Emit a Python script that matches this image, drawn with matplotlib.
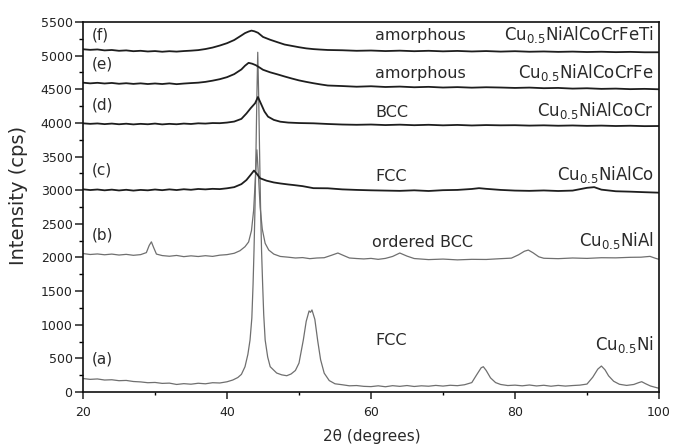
import matplotlib
matplotlib.use("Agg")
import matplotlib.pyplot as plt
from matplotlib.ticker import MultipleLocator

plt.rcParams['font.family'] = ['DejaVu Sans']
plt.rcParams['mathtext.fontset'] = 'dejavusans'

# ---------------- data ----------------
# (a) Cu0.5Ni
a_x = [20, 21, 22, 23, 24, 25, 26, 27, 28, 29, 30, 31, 32, 33, 34, 35, 36, 37, 38, 39, 40,
       40.8, 41.5, 42.0, 42.5, 42.9, 43.2, 43.45, 43.62, 43.75, 43.9, 44.03, 44.15, 44.27,
       44.4, 44.52, 44.65, 44.8, 44.95, 45.1, 45.3, 45.65, 46.0, 46.9, 47.6, 48.3, 48.9,
       49.5, 50.0, 50.6, 51.0, 51.4, 51.6, 51.8, 52.2, 52.6, 53.0, 53.5, 54.2, 55, 56, 57,
       58, 59, 60, 61, 62, 63, 64, 65, 66, 67, 68, 69, 70, 71, 72, 73, 74, 74.7, 75.3, 75.6,
       76.0, 76.6, 77.3, 78, 79, 80, 81, 82, 83, 84, 85, 86, 87, 88, 89, 90, 90.8, 91.5,
       92.0, 92.5, 93.0, 93.7, 94.5, 95.5, 96.5, 97.2, 97.6, 98.1, 98.8, 99.4, 100]
a_y = [200, 188, 194, 178, 182, 168, 172, 156, 150, 138, 142, 128, 132, 112, 124, 116, 130, 122, 138, 134, 152,
       178, 215, 262, 376, 560, 773, 1100, 1600, 2100, 2800, 3600, 4400, 5050,
       4400, 3600, 2800, 2100, 1600, 1150, 773, 520, 376, 282, 255, 242, 268,
       320, 430, 773, 1050, 1205, 1185, 1220, 1080, 760, 480, 280, 170, 122, 108, 92,
       96, 84, 80, 92, 78, 94, 84, 96, 82, 92, 86, 98, 88, 100, 94, 108, 140, 260, 360, 376,
       320, 210, 140, 112, 96, 102, 92, 104, 90, 100, 86, 98, 88, 96, 102, 118, 220, 340,
       386, 330, 240, 160, 115, 98, 112, 140, 153, 125, 90, 72, 55]

# (b) Cu0.5NiAl
b_x = [20, 21, 22, 23, 24, 25, 26, 27, 28, 28.8, 29.2, 29.5, 29.8, 30.2, 31, 32, 33, 34, 35,
       36, 37, 38, 39, 40, 41, 41.8, 42.5, 43.0, 43.4, 43.7, 43.95, 44.15, 44.35, 44.6, 44.9,
       45.3, 45.8, 46.5, 47.4, 48.5, 49.5, 50.5, 51.5, 52.5, 53.5, 54.5, 55.4, 56.3, 57, 58,
       59, 60, 61, 62, 63, 64, 65, 66, 67, 68, 70, 72, 74, 76, 78, 79.5, 80.5, 81.3, 81.85,
       82.5, 83.3, 84, 86, 88, 90, 92, 94, 96, 97.5, 98.75, 99.5, 100]
b_y = [2058, 2044, 2052, 2040, 2050, 2036, 2046, 2032, 2042, 2072, 2180, 2232, 2150, 2050, 2028, 2018, 2030, 2012, 2024,
       2014, 2026, 2016, 2034, 2042, 2062, 2100, 2160, 2230, 2400, 2700, 3200, 3600, 3250, 2750, 2420,
       2210, 2110, 2050, 2015, 2004, 1992, 1998, 1982, 1992, 1996, 2032, 2066, 2024, 1992, 1984,
       1978, 1986, 1972, 1986, 2015, 2066, 2020, 1984, 1976, 1968, 1976, 1964, 1972, 1970, 1982, 1990, 2040, 2092, 2110,
       2070, 2010, 1988, 1982, 1992, 1986, 1996, 1994, 2002, 2004, 2016, 1988, 1972]

# (c) Cu0.5NiAlCo
c_x = [20, 21, 22, 23, 24, 25, 26, 27, 28, 29, 30, 31, 32, 33, 34, 35, 36, 37, 38, 39, 40, 41,
       42, 42.7, 43.3, 43.75, 44.2, 44.6, 45.5, 46.5, 47.4, 48.5, 49.2, 50.5, 52, 54, 56, 58,
       60, 62, 64, 66, 68, 70, 72, 74, 75, 76, 78, 80, 82, 84, 86, 88, 90, 91, 92, 94, 96, 98, 100]
c_y = [3013, 3002, 3010, 2998, 3008, 2996, 3006, 2994, 3004, 2998, 3010, 3000, 3012, 3002, 3014, 3006, 3018, 3012, 3020, 3016, 3028, 3045,
       3090, 3151, 3230, 3292, 3235, 3177, 3141, 3115, 3100, 3085, 3077, 3060, 3030, 3028, 3012, 3004,
       2998, 2994, 2990, 2998, 2988, 3000, 3004, 3018, 3030, 3020, 3004, 2994, 2990, 2996, 2988, 2994, 3035, 3045, 3008, 2984, 2978, 2970, 2963]

# (d) Cu0.5NiAlCoCr
d_x = [20, 21, 22, 23, 24, 25, 26, 27, 28, 29, 30, 31, 32, 33, 34, 35, 36, 37, 38, 39, 40, 41,
       42, 42.7, 43.3, 43.9, 44.3, 44.8, 45.2, 45.7, 46.5, 47.4, 48.5, 50, 52, 54, 56, 58, 60,
       62, 64, 66, 68, 70, 72, 74, 76, 78, 80, 82, 84, 86, 88, 90, 92, 94, 96, 98, 100]
d_y = [3994, 3986, 3992, 3982, 3990, 3980, 3988, 3978, 3986, 3980, 3990, 3978, 3986, 3980, 3990, 3984, 3994, 3990, 3998, 3996, 4005, 4020,
       4060, 4140, 4220, 4292, 4385, 4266, 4170, 4093, 4045, 4018, 4005, 3998, 3994, 3984, 3976, 3972, 3976,
       3968, 3974, 3966, 3972, 3964, 3970, 3962, 3968, 3964, 3966, 3960, 3964, 3958, 3962, 3956, 3960, 3954, 3958, 3952, 3954]

# (e) Cu0.5NiAlCoCrFe
e_x = [20, 21, 22, 23, 24, 25, 26, 27, 28, 29, 30, 31, 32, 33, 34, 35, 36, 37, 38, 39, 40, 41,
       42, 42.5, 43, 43.5, 44, 44.5, 45, 46, 47, 48, 49, 50, 51, 52, 53, 54, 56, 58, 60, 62, 64,
       66, 68, 70, 72, 74, 76, 78, 80, 82, 84, 86, 88, 90, 92, 94, 96, 98, 100]
e_y = [4598, 4588, 4596, 4586, 4594, 4582, 4590, 4580, 4588, 4578, 4586, 4578, 4588, 4576, 4585, 4592, 4598, 4610, 4628, 4650, 4680, 4725,
       4795, 4850, 4893, 4880, 4858, 4825, 4790, 4752, 4722, 4690, 4660, 4632, 4610, 4590, 4572, 4556, 4548, 4538, 4545, 4534, 4540,
       4530, 4536, 4526, 4532, 4524, 4530, 4526, 4520, 4525, 4516, 4520, 4510, 4515, 4506, 4510, 4502, 4506, 4500]

# (f) Cu0.5NiAlCoCrFeTi
f_x = [20, 21, 22, 23, 24, 25, 26, 27, 28, 29, 30, 31, 32, 33, 34, 35, 36, 37, 38, 39, 40, 41,
       42, 42.5, 43, 43.4, 43.8, 44.3, 45, 46, 47, 48, 49, 50, 51, 52, 53, 54, 56, 58, 60, 62,
       64, 66, 68, 70, 72, 74, 76, 78, 80, 82, 84, 86, 88, 90, 92, 94, 96, 98, 100]
f_y = [5095, 5086, 5092, 5078, 5084, 5072, 5078, 5066, 5072, 5062, 5068, 5058, 5066, 5060, 5068, 5074, 5082, 5098, 5120, 5150, 5185, 5232,
       5300, 5335, 5358, 5372, 5362, 5340, 5278, 5236, 5200, 5165, 5145, 5125, 5108, 5097, 5090, 5084, 5080, 5072, 5076, 5068,
       5074, 5066, 5072, 5064, 5070, 5062, 5068, 5060, 5066, 5058, 5062, 5056, 5060, 5054, 5058, 5052, 5056, 5050, 5050]

curve_labels = ['(a)', '(b)', '(c)', '(d)', '(e)', '(f)']
curve_label_y = [495, 2334, 3300, 4266, 4879, 5307]
phase_labels = ['FCC', 'ordered BCC', 'FCC', 'BCC', 'amorphous', 'amorphous']
phase_label_y = [699, 2160, 3130, 4090, 4663, 5232]
alloy_labels = [r'Cu$_{0.5}$Ni', r'Cu$_{0.5}$NiAl', r'Cu$_{0.5}$NiAlCo',
                r'Cu$_{0.5}$NiAlCoCr', r'Cu$_{0.5}$NiAlCoCrFe', r'Cu$_{0.5}$NiAlCoCrFeTi']
alloy_label_y = [624, 2170, 3145, 4110, 4663, 5232]

# ---------------- figure ----------------
fig = plt.figure(figsize=(6.73, 4.45), dpi=100)
ax = fig.add_axes([83 / 673, 1 - 392 / 445, 576 / 673, 370 / 445])

gray = '#6f6f6f'
dark = '#1e1e1e'
ax.plot(a_x, a_y, color=gray, lw=0.9)
ax.plot(b_x, b_y, color=gray, lw=0.9)
ax.plot(c_x, c_y, color=dark, lw=1.3)
ax.plot(d_x, d_y, color=dark, lw=1.3)
ax.plot(e_x, e_y, color=dark, lw=1.3)
ax.plot(f_x, f_y, color=dark, lw=1.3)

ax.set_xlim(20, 100)
ax.set_ylim(0, 5500)
ax.xaxis.set_major_locator(MultipleLocator(20))
ax.xaxis.set_minor_locator(MultipleLocator(10))
ax.yaxis.set_major_locator(MultipleLocator(500))
ax.yaxis.set_minor_locator(MultipleLocator(250))
ax.tick_params(axis='y', which='major', direction='out', length=5.5, width=1.1, pad=2, labelsize=9, colors='#222222')
ax.tick_params(axis='y', which='minor', direction='out', length=3, width=1.0)
ax.tick_params(axis='x', which='major', direction='out', length=4.8, width=1.1, pad=5, labelsize=9, colors='#222222')
ax.tick_params(axis='x', which='minor', direction='out', length=2.5, width=1.0)
for s in ax.spines.values():
    s.set_linewidth(1.2)
    s.set_color('#111111')

tc = '#2a2a2a'
for lab, yv in zip(curve_labels, curve_label_y):
    ax.text(21.2, yv, lab, fontsize=11, ha='left', va='center', color=tc)
for i, (lab, yv) in enumerate(zip(phase_labels, phase_label_y)):
    xv = 60.2 if lab == 'ordered BCC' else 60.6
    ax.text(xv, yv, lab, fontsize=11.5, ha='left', va='baseline', color=tc)
for lab, yv in zip(alloy_labels, alloy_label_y):
    ax.text(99.3, yv, lab, fontsize=12, ha='right', va='baseline', color=tc)

fig.text(19 / 673, 1 - 195 / 445, 'Intensity (cps)', rotation=90, ha='center', va='center',
         fontsize=14, color=tc)
fig.text(372 / 673, 1 - 437 / 445, '2θ (degrees)', ha='center', va='center',
         fontsize=11, color=tc)

fig.savefig('out.png', dpi=100)
